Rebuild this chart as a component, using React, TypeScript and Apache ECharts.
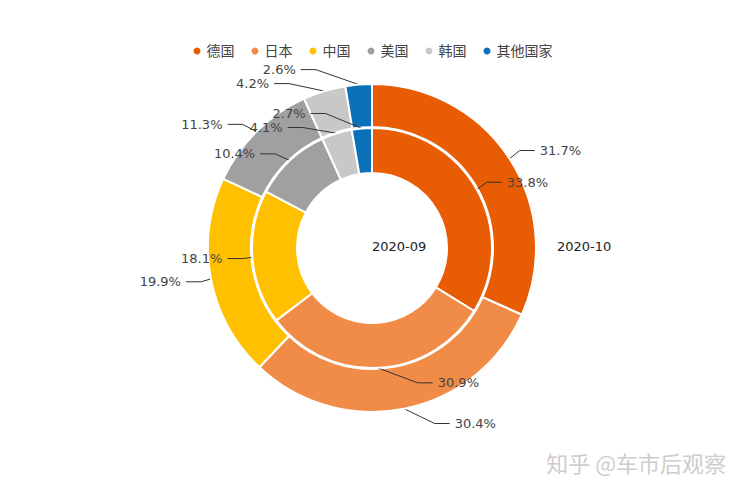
import React, { useEffect, useRef } from "react";
import * as echarts from "echarts";

const countries = ["德国", "日本", "中国", "美国", "韩国", "其他国家"];
const colors = ["#E85D04", "#F08C48", "#FFC000", "#A0A0A0", "#C8C8C8", "#0A70B8"];
const sep2020 = [33.8, 30.9, 18.1, 10.4, 4.1, 2.7];
const oct2020 = [31.7, 30.4, 19.9, 11.3, 4.2, 2.6];

const CX = 372;
const CY = 248;
const LEN = 15;
const LEN2 = 15;
const LABEL_H = 14;

type LabelPos = { x: number; y: number; dir: number; x1: number; y1: number };

// Classic (v4-style) pie outside-label layout, computed from the data's angles.
function classicLabelLayout(vals: number[], r: number): LabelPos[] {
  const sum = vals.reduce((a, b) => a + b, 0);
  let acc = 0;
  const items: LabelPos[] = vals.map((v) => {
    const mid = ((acc + v / 2) / sum) * Math.PI * 2;
    acc += v;
    const dx = Math.sin(mid);
    const dy = -Math.cos(mid);
    const x1 = CX + r * dx;
    const y1 = CY + r * dy;
    const x2 = x1 + dx * LEN;
    const y2 = y1 + dy * LEN;
    const dir = dx < 0 ? -1 : 1;
    return { x: x2 + dir * LEN2 + dir * 5, y: y2, dir, x1, y1 };
  });
  const adjustSide = (list: LabelPos[], dir: number) => {
    list.sort((a, b) => a.y - b.y);
    const len = list.length;
    const shiftUp = (end: number, delta: number) => {
      for (let j = end; j >= 0; j--) {
        list[j].y -= delta;
        if (j > 0 && list[j].y > list[j - 1].y + LABEL_H) break;
      }
    };
    const shiftDown = (start: number, end: number, delta: number) => {
      for (let j = start; j < end; j++) {
        list[j].y += delta;
        if (j > start && j + 1 < end && list[j + 1].y > list[j].y + LABEL_H) {
          shiftUp(j, delta / 2);
          return;
        }
      }
      shiftUp(end - 1, delta / 2);
    };
    let lastY = 0;
    for (let i = 0; i < len; i++) {
      const delta = list[i].y - lastY;
      if (delta < 0) shiftDown(i, len, -delta);
      lastY = list[i].y + LABEL_H;
    }
    const up = list.filter((l) => l.y < CY);
    const down = list.filter((l) => l.y >= CY);
    const R = r + LEN + LEN2;
    const changeX = (sub: LabelPos[], isDown: boolean) => {
      let last = isDown ? Number.MAX_VALUE : 0;
      for (const it of sub) {
        const dY = Math.abs(it.y - CY);
        let dX = dY < r + LEN ? Math.sqrt(R * R - dY * dY) : Math.abs(it.x - CX);
        if (isDown && dX >= last) dX = last - 10;
        if (!isDown && dX <= last) dX = last + 10;
        it.x = CX + dX * dir;
        last = dX;
      }
    };
    changeX(up, false);
    changeX(down, true);
  };
  adjustSide(items.filter((i) => i.dir > 0), 1);
  adjustSide(items.filter((i) => i.dir < 0), -1);
  return items;
}

export default function App() {
  const ref = useRef<HTMLDivElement>(null);
  useEffect(() => {
    const chart = echarts.init(ref.current!, undefined, { renderer: "svg" });
    const fontFamily = "'DejaVu Sans', 'Noto Sans CJK SC', sans-serif";
    const mk = (vals: number[]) =>
      countries.map((n, i) => ({ name: n, value: vals[i], itemStyle: { color: colors[i] } }));
    const layoutFor = (vals: number[], r: number) => {
      const pos = classicLabelLayout(vals, r);
      return (params: any) => {
        const p = pos[params.dataIndex];
        const end = p.x - p.dir * 5;
        return {
          x: p.x,
          y: p.y,
          align: p.dir > 0 ? "left" : "right",
          verticalAlign: "middle",
          labelLinePoints: [
            [p.x1, p.y1],
            [end - p.dir * LEN2, p.y],
            [end, p.y],
          ],
        };
      };
    };
    const common = {
      type: "pie",
      center: [CX, CY],
      startAngle: 90,
      clockwise: true,
      avoidLabelOverlap: false,
      itemStyle: { borderColor: "#fff", borderWidth: 2 },
      label: {
        show: true,
        position: "outside",
        formatter: (p: any) => p.value.toFixed(1) + "%",
        color: "#444",
        fontSize: 13,
        fontFamily,
      },
      labelLine: { show: true, length: LEN, length2: LEN2, lineStyle: { color: "#333", width: 1 } },
      emphasis: { disabled: true },
    };
    chart.setOption({
      animation: false,
      textStyle: { fontFamily },
      legend: {
        top: 39,
        left: "center",
        icon: "circle",
        itemWidth: 9,
        itemHeight: 9,
        itemGap: 15,
        textStyle: { color: "#444", fontSize: 14, fontFamily },
        data: countries,
      },
      graphic: [
        { type: "text", left: 372, top: 240, style: { text: "2020-09", fontSize: 13, fill: "#222", fontFamily } },
        { type: "text", left: 557, top: 240, style: { text: "2020-10", fontSize: 13, fill: "#222", fontFamily } },
        {
          type: "text",
          right: 18,
          top: 451,
          style: { text: "知乎 @车市后观察", fontSize: 22, fill: "#cdcdcd", fontFamily: "'Noto Sans CJK SC', sans-serif" },
        },
      ],
      series: [
        { ...common, name: "2020-10", z: 2, radius: [121, 164], data: mk(oct2020), labelLayout: layoutFor(oct2020, 164) },
        { ...common, name: "2020-09", z: 3, radius: [75, 120], data: mk(sep2020), labelLayout: layoutFor(sep2020, 120) },
      ],
    });
    return () => chart.dispose();
  }, []);
  return <div ref={ref} style={{ width: 744, height: 496, margin: -8 }} />;
}
